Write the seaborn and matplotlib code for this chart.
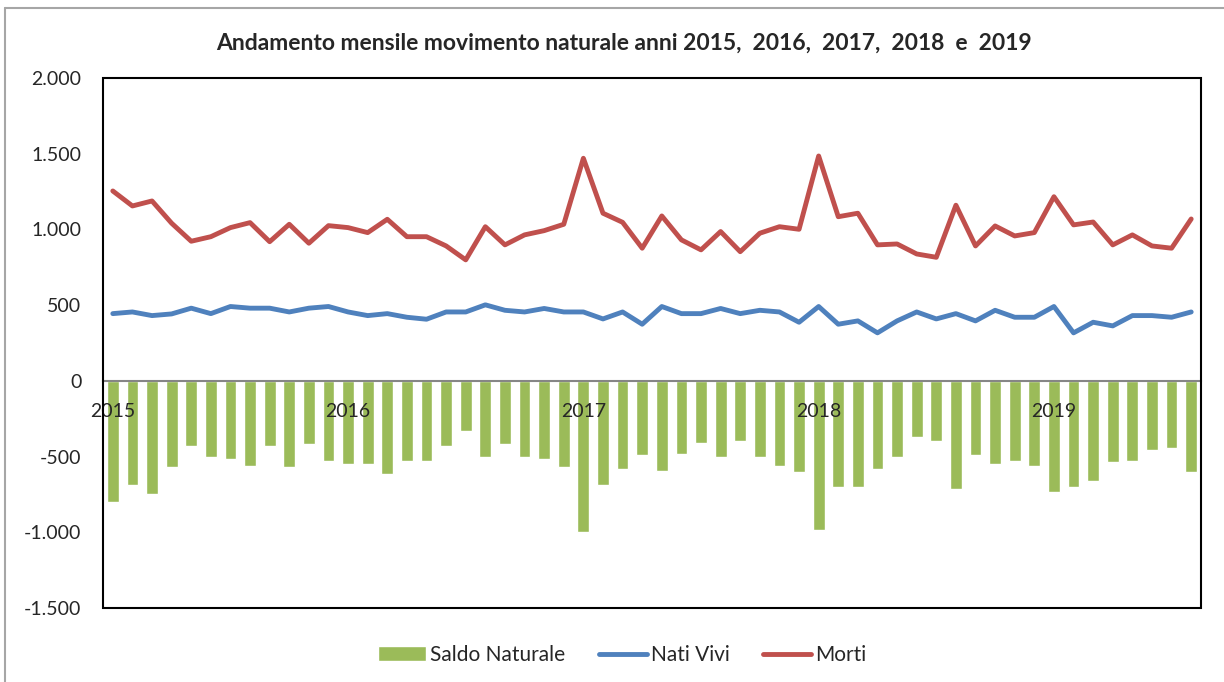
import numpy as np
import pandas as pd
import matplotlib.pyplot as plt
import seaborn as sns
from matplotlib.lines import Line2D
from matplotlib.patches import Rectangle
from matplotlib.ticker import FuncFormatter

# monthly data, Jan 2015 - Aug 2019
nati_vivi = [444, 455, 431, 442, 480, 444, 491, 480, 480, 455, 480, 491,
             455, 431, 444, 420, 407, 455, 455, 502, 466, 455, 478, 455,
             455, 409, 455, 374, 491, 444, 444, 478, 444, 466, 455, 387,
             491, 374, 396, 317, 396, 455, 409, 444, 396, 466, 420, 420,
             491, 317, 387, 363, 431, 431, 420, 455]
morti = [1254, 1155, 1188, 1041, 922, 952, 1012, 1045, 919, 1034, 909, 1025,
         1012, 979, 1067, 952, 952, 891, 799, 1018, 898, 964, 992, 1034,
         1470, 1107, 1047, 876, 1089, 931, 865, 986, 853, 975, 1018, 1001,
         1485, 1084, 1107, 898, 904, 838, 816, 1160, 891, 1023, 957, 979,
         1216, 1030, 1049, 898, 964, 891, 876, 1069]
saldo = [-803, -689, -746, -572, -433, -504, -515, -561, -433, -572, -420, -526,
         -548, -548, -618, -526, -526, -433, -328, -502, -420, -502, -515, -572,
         -1001, -689, -583, -491, -596, -480, -409, -502, -398, -502, -559, -605,
         -988, -700, -700, -583, -504, -374, -398, -711, -491, -548, -526, -559,
         -733, -700, -664, -537, -526, -455, -444, -605]
anni = ['2015', '2016', '2017', '2018', '2019']

mese = np.arange(len(saldo))
df = pd.DataFrame({'mese': mese, 'saldo': saldo, 'nati': nati_vivi, 'morti': morti})

sns.set_style('white')
plt.rcParams['font.family'] = ['Lato', 'DejaVu Sans']

fig = plt.figure(figsize=(12.24, 6.82), dpi=100)
ax = fig.add_axes([103/1224, 1-608/682, 1098/1224, 530/682])

sns.barplot(data=df, x='mese', y='saldo', color='#9BBB59', saturation=1,
            width=0.6, label='Saldo Naturale', ax=ax)
sns.lineplot(data=df, x='mese', y='nati', color='#4F81BD', linewidth=3.5,
             label='Nati Vivi', ax=ax)
sns.lineplot(data=df, x='mese', y='morti', color='#C0504D', linewidth=3.5,
             label='Morti', ax=ax)

ax.set_xlim(-0.5, len(saldo) - 0.5)
ax.set_ylim(-1500, 2000)
ax.set_yticks(np.arange(-1500, 2001, 500))
ax.yaxis.set_major_formatter(FuncFormatter(lambda v, p: f'{int(v):,}'.replace(',', '.')))
ax.set_xticks(np.arange(0, len(saldo), 12))
ax.set_xticklabels(anni)
ax.set_xlabel('')
ax.set_ylabel('')
ax.set_axisbelow(False)
ax.tick_params(axis='y', length=0, pad=15.5, labelsize=14)
ax.tick_params(axis='x', length=0, pad=16, labelsize=14)

# zero line carries the category axis
ax.spines['bottom'].set_position(('data', 0))
ax.spines['bottom'].set_color('#868686')
ax.spines['bottom'].set_linewidth(1.5)
for s in ['top', 'left', 'right']:
    ax.spines[s].set_visible(False)
ax.add_patch(Rectangle((0, 0), 1, 1, transform=ax.transAxes, fill=False,
                       edgecolor='black', linewidth=1.5, zorder=5, clip_on=False))

fig.text(624/1224, 1-43/682,
         'Andamento mensile movimento naturale anni 2015,  2016,  2017,  2018  e  2019',
         fontsize=16.5, fontweight='bold', ha='center', va='center')

h, l = ax.get_legend_handles_labels()
ordine = ['Saldo Naturale', 'Nati Vivi', 'Morti']
h = [h[l.index(k)] for k in ordine]
ax.get_legend().remove()
fig.legend(h, ordine, loc='center', bbox_to_anchor=(622/1224, 1-655/682), ncol=3,
           frameon=False, fontsize=15, handlelength=2.3, handletextpad=0.2,
           columnspacing=1.6)

# chart area border
fig.add_artist(Line2D([5/1224, 5/1224], [0, 1-8/682], color='#a6a6a6', linewidth=1.5))
fig.add_artist(Line2D([5/1224, 1], [1-8/682, 1-8/682], color='#a6a6a6', linewidth=1.5))

fig.savefig('out.png', dpi=100)
